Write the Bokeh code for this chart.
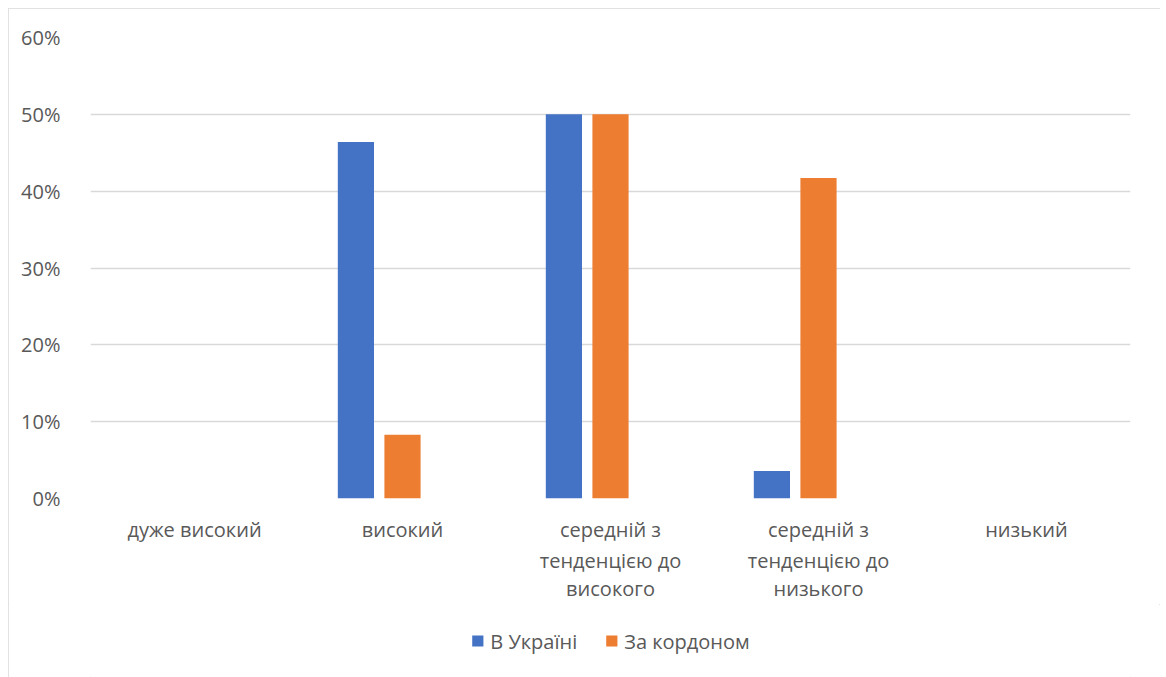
from bokeh.plotting import figure
from bokeh.layouts import column
from bokeh.models import (Legend, LegendItem, NumeralTickFormatter, FixedTicker,
                          CategoricalAxis, ColumnDataSource, CustomJSTickFormatter)
from bokeh.transform import dodge
from bokeh.embed import file_html
from bokeh.resources import INLINE

categories = ["дуже високий", "високий", "середній з тенденцією до високого",
              "середній з тенденцією до низького", "низький"]
label_line1 = ["дуже високий", "високий", "середній з", "середній з", "низький"]
label_line2 = ["", "", "тенденцією до", "тенденцією до", ""]
label_line3 = ["", "", "високого", "низького", ""]
in_ukraine = [0.0, 0.464, 0.50, 0.0357, 0.0]
abroad = [0.0, 0.083, 0.50, 0.417, 0.0]
series_names = ["В Україні", "За кордоном"]
series_colors = ["#4472C4", "#ED7D31"]
y_ticks = [0.0, 0.1, 0.2, 0.3, 0.4, 0.5, 0.6]

FONT = "Open Sans"
TXT = "#595959"
FS = "20px"

src = ColumnDataSource(dict(cat=categories, ua=in_ukraine, ab=abroad))

p = figure(x_range=categories, y_range=(0, 0.6), frame_width=1040, frame_height=461,
           output_backend="svg", toolbar_location=None,
           min_border_left=82, min_border_right=30, min_border_top=29, min_border_bottom=0)
p.outline_line_color = None
p.background_fill_color = "white"
p.border_fill_color = "white"

r1 = p.vbar(x=dodge("cat", -0.224, range=p.x_range), top="ua", width=0.174, source=src,
            fill_color=series_colors[0], line_color=None)
r2 = p.vbar(x=dodge("cat", 0.0, range=p.x_range), top="ab", width=0.174, source=src,
            fill_color=series_colors[1], line_color=None)

p.xgrid.grid_line_color = None
p.ygrid.grid_line_color = "#d9d9d9"
p.ygrid.grid_line_width = 1.3
p.yaxis.ticker = FixedTicker(ticks=y_ticks)
p.yaxis.formatter = NumeralTickFormatter(format="0%")
p.yaxis.axis_line_color = None
p.yaxis.major_tick_line_color = None
p.yaxis.minor_tick_line_color = None
p.yaxis.major_label_standoff = 24
p.yaxis.major_label_text_font = FONT
p.yaxis.major_label_text_font_size = FS
p.yaxis.major_label_text_color = TXT


def style_x(ax, standoff, lines):
    ax.axis_line_color = None
    ax.major_tick_line_color = None
    ax.minor_tick_line_color = None
    ax.major_tick_out = 0
    ax.major_tick_in = 0
    ax.major_label_standoff = standoff
    ax.major_label_text_font = FONT
    ax.major_label_text_font_size = FS
    ax.major_label_text_color = TXT
    ax.formatter = CustomJSTickFormatter(args=dict(keys=categories, vals=lines),
                                         code="const i = keys.indexOf(tick); return i >= 0 ? vals[i] : '';")


style_x(p.xaxis[0], 17, label_line1)
ax2 = CategoricalAxis()
style_x(ax2, 1, label_line2)
p.add_layout(ax2, "below")
ax3 = CategoricalAxis()
style_x(ax3, -2, label_line3)
p.add_layout(ax3, "below")

# legend strip: a second, axis-less figure whose y range lies above all values,
# so its bars (same data) stay out of view and only the legend shows
p2 = figure(x_range=categories, y_range=(1, 2), width=1152, height=73,
            output_backend="svg", toolbar_location=None,
            min_border_left=0, min_border_right=0, min_border_top=0, min_border_bottom=0,
            x_axis_location=None, y_axis_location=None)
p2.outline_line_color = None
p2.grid.grid_line_color = None
p2.background_fill_color = "white"
p2.border_fill_color = "white"
k1 = p2.vbar(x="cat", top="ua", width=0.174, source=src,
             fill_color=series_colors[0], line_color=None)
k2 = p2.vbar(x="cat", top="ab", width=0.174, source=src,
             fill_color=series_colors[1], line_color=None)

legend = Legend(items=[LegendItem(label=series_names[0], renderers=[k1]),
                       LegendItem(label=series_names[1], renderers=[k2])],
                orientation="horizontal", location="center", margin=0,
                glyph_width=14, glyph_height=14, spacing=27, padding=0,
                label_standoff=6, border_line_color=None, background_fill_alpha=0,
                label_text_font=FONT, label_text_font_size=FS, label_text_color=TXT)
p2.add_layout(legend)

lay = column(p, p2, spacing=0)
lay.margin = (8, 0, 0, 8)
lay.styles = {"outline": "1px solid #d9d9d9", "outline-offset": "-1px"}

open("out.html", "w").write(file_html(lay, INLINE))
